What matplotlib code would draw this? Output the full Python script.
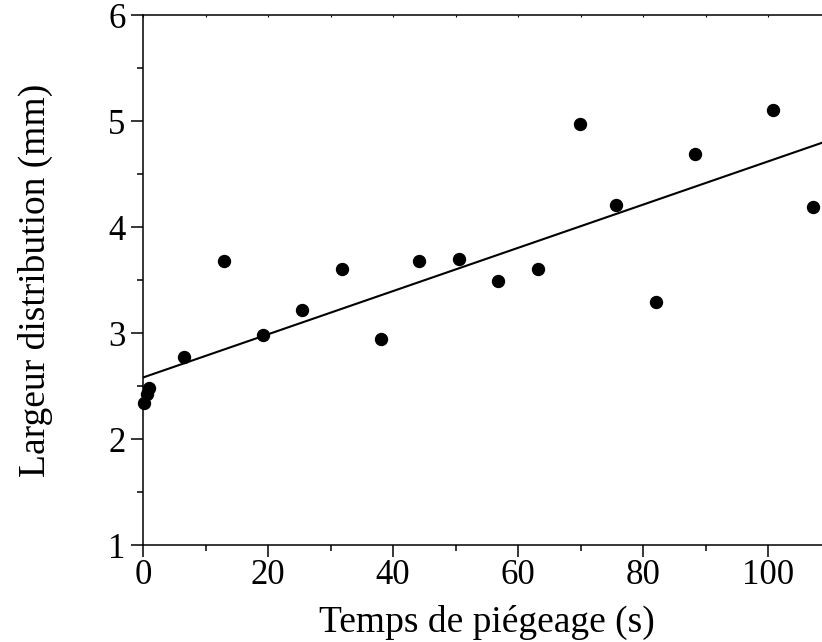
import numpy as np
import matplotlib.pyplot as plt
from matplotlib.ticker import MultipleLocator

plt.rcParams['font.family'] = ['Liberation Serif', 'DejaVu Serif']

# Data
temps = [0.1, 0.7, 0.9, 6.6, 13.0, 19.2, 25.4, 31.8, 38.0, 44.2, 50.5,
         56.8, 63.2, 69.8, 75.7, 82.0, 88.2, 100.8, 107.1]
largeur = [2.34, 2.42, 2.48, 2.77, 3.68, 2.98, 3.22, 3.60, 2.94, 3.68, 3.70,
           3.49, 3.60, 4.97, 4.21, 3.29, 4.69, 5.10, 4.19]

# fitted line parameters
fit_intercept = 2.58
fit_slope = 0.0204

fig = plt.figure(figsize=(8.22, 6.42), dpi=100)
ax = fig.add_axes([143 / 822, 1 - 545 / 642, 688 / 822, 530 / 642])

xfit = np.array([0, 110])
ax.plot(xfit, fit_intercept + fit_slope * xfit, color='black', lw=1.5, zorder=2)
ax.plot(temps, largeur, 'o', color='black', markersize=8.6, zorder=3, clip_on=False)

ax.set_xlim(0, 110)
ax.set_ylim(1, 6)
ax.xaxis.set_major_locator(MultipleLocator(20))
ax.xaxis.set_minor_locator(MultipleLocator(10))
ax.yaxis.set_major_locator(MultipleLocator(1))
ax.yaxis.set_minor_locator(MultipleLocator(0.5))

for s in ax.spines.values():
    s.set_linewidth(1.1)
ax.spines['right'].set_visible(False)

ax.tick_params(which='major', direction='out', length=8.6, width=1.1,
               labelsize=25)
ax.tick_params(which='minor', direction='out', length=4.3, width=1.1)
ax.tick_params(axis='x', which='both', top=False, pad=1.5)
ax.tick_params(axis='y', which='major', pad=4)

# tiny inward ticks on the top spine
sec = ax.secondary_xaxis('top')
sec.xaxis.set_major_locator(MultipleLocator(10))
sec.tick_params(direction='in', length=1.5, width=0.8, labeltop=False)
sec.spines['top'].set_visible(False)

fig.text(487 / 822, 1 - 632 / 642, 'Temps de piégeage (s)', fontsize=27,
         ha='center', va='baseline')
fig.text(35 / 822, 1 - 280 / 642, 'Largeur distribution (mm)', fontsize=27,
         ha='center', va='center', rotation=90)

fig.savefig('out.png', dpi=100)
